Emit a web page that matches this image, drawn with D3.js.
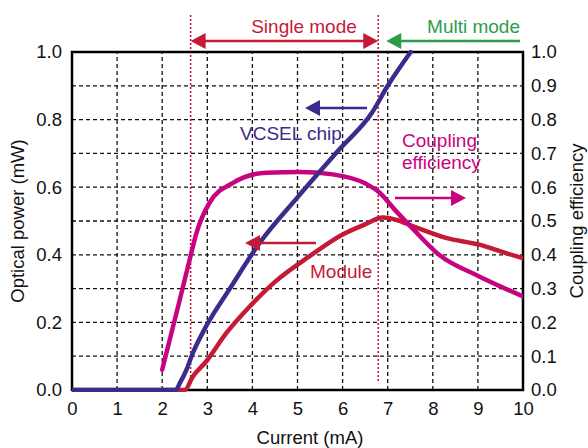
<!DOCTYPE html>
<html>
<head>
<meta charset="utf-8">
<script src="https://cdn.jsdelivr.net/npm/d3@7"></script>
<style>
  html, body { margin: 0; padding: 0; background: #fff; }
  svg { display: block; font-family: "Liberation Sans", Arial, sans-serif; }
</style>
</head>
<body>
<svg id="chart" width="588" height="448"></svg>
<script>
// VCSEL chip output power (mW) vs drive current (mA)
const chipCurrent = [0, 2.3, 2.39, 2.54, 2.65, 2.98, 3.5, 4.16, 5.0, 5.93, 6.65, 7.0, 7.51];
const chipPower   = [0, 0, 0.02, 0.06, 0.1, 0.19, 0.3, 0.435, 0.57, 0.712, 0.82, 0.9, 1.0];

// Module output power (mW)
const moduleCurrent = [0, 2.5, 2.68, 2.98, 3.42, 3.94, 4.5, 5.27, 6.0, 6.5, 6.89, 7.2, 7.55, 8.29, 9.03, 9.62, 10];
const modulePower   = [0, 0, 0.04, 0.085, 0.168, 0.247, 0.32, 0.396, 0.46, 0.49, 0.51, 0.503, 0.485, 0.45, 0.43, 0.405, 0.39];

// Coupling efficiency (right axis)
const couplingCurrent = [2.0, 2.39, 2.61, 2.76, 3.05, 3.57, 4.31, 5.04, 5.78, 6.52, 6.81, 7.18, 7.55, 8.14, 9.03, 10];
const couplingEff     = [0.06, 0.267, 0.386, 0.465, 0.554, 0.613, 0.643, 0.645, 0.638, 0.61, 0.585, 0.53, 0.478, 0.4, 0.336, 0.277];

// Tick values
const xTicks = [0, 1, 2, 3, 4, 5, 6, 7, 8, 9, 10];
const leftTicks = [0, 0.2, 0.4, 0.6, 0.8, 1.0];
const rightTicks = [0, 0.1, 0.2, 0.3, 0.4, 0.5, 0.6, 0.7, 0.8, 0.9, 1.0];

// Mode boundaries (mA)
const singleModeStart = 2.63;
const singleModeEnd = 6.79;

const C = {
  chip: "#3b2b8c",
  module: "#c41a35",
  coupling: "#c8037f",
  multi: "#2e9b4a"
};

const svg = d3.select("#chart");
const margin = { left: 72, right: 65, top: 52, bottom: 58 };
const W = 588, H = 448;
const x = d3.scaleLinear().domain([0, 10]).range([margin.left, W - margin.right]);
const yL = d3.scaleLinear().domain([0, 1]).range([H - margin.bottom, margin.top]);
const yR = d3.scaleLinear().domain([0, 1]).range([H - margin.bottom, margin.top]);

const defs = svg.append("defs");
defs.append("clipPath").attr("id", "plot")
  .append("rect")
  .attr("x", x(0)).attr("y", yL(1) - 2)
  .attr("width", x(10) - x(0)).attr("height", yL(0) - yL(1) + 4);

// Grid
const grid = svg.append("g").attr("stroke", "#111").attr("stroke-width", 1.3)
  .attr("stroke-dasharray", "4,3");
xTicks.slice(1, -1).forEach(v => {
  grid.append("line").attr("x1", x(v)).attr("x2", x(v)).attr("y1", yL(0)).attr("y2", yL(1));
});
rightTicks.slice(1, -1).forEach(v => {
  grid.append("line").attr("x1", x(0)).attr("x2", x(10)).attr("y1", yL(v)).attr("y2", yL(v));
});

// Mode boundary markers
[singleModeStart, singleModeEnd].forEach(v => {
  svg.append("line").attr("x1", x(v)).attr("x2", x(v)).attr("y1", 15).attr("y2", 382)
    .attr("stroke", C.module).attr("stroke-width", 1.6).attr("stroke-dasharray", "2,2");
});

// Axes
const fmt = d3.format(".1f");
const axB = svg.append("g").attr("transform", `translate(0,${yL(0)})`)
  .call(d3.axisBottom(x).tickValues(xTicks).tickFormat(d3.format("d")).tickSize(0).tickPadding(12));
const axL = svg.append("g").attr("transform", `translate(${x(0)},0)`)
  .call(d3.axisLeft(yL).tickValues(leftTicks).tickFormat(fmt).tickSize(0).tickPadding(10));
const axR = svg.append("g").attr("transform", `translate(${x(10)},0)`)
  .call(d3.axisRight(yR).tickValues(rightTicks).tickFormat(fmt).tickSize(0).tickPadding(8));
[axB, axL, axR].forEach(g => {
  g.select(".domain").remove();
  g.selectAll("text").attr("font-size", 18.5).attr("fill", "#111")
    .attr("font-family", "Liberation Sans, Arial, sans-serif");
});

// Frame
svg.append("rect").attr("x", x(0)).attr("y", yL(1))
  .attr("width", x(10) - x(0)).attr("height", yL(0) - yL(1))
  .attr("fill", "none").attr("stroke", "#000").attr("stroke-width", 2.5);

// Curves
const plot = svg.append("g").attr("clip-path", "url(#plot)");
function drawCurve(xs, ys, yScale, color) {
  const pts = xs.map((v, i) => [v, ys[i]]);
  const line = d3.line().x(d => x(d[0])).y(d => yScale(d[1])).curve(d3.curveMonotoneX);
  plot.append("path").attr("d", line(pts)).attr("fill", "none")
    .attr("stroke", color).attr("stroke-width", 4.5)
    .attr("stroke-linecap", "round").attr("stroke-linejoin", "round");
}
drawCurve(moduleCurrent, modulePower, yL, C.module);
drawCurve(couplingCurrent, couplingEff, yR, C.coupling);
drawCurve(chipCurrent, chipPower, yL, C.chip);

// Arrow helper
function arrow(x1, x2, y, color, both) {
  const g = svg.append("g");
  const dir = Math.sign(x2 - x1);
  const head = 15, half = 8;
  g.append("line").attr("x1", both ? x1 + dir * head * 0.6 : x1).attr("x2", x2 - dir * head * 0.6)
    .attr("y1", y).attr("y2", y).attr("stroke", color).attr("stroke-width", 2.5);
  const tri = (tx, d) => `M${tx},${y} L${tx - d * head},${y - half} L${tx - d * head},${y + half} Z`;
  g.append("path").attr("d", tri(x2, dir)).attr("fill", color);
  if (both) g.append("path").attr("d", tri(x1, -dir)).attr("fill", color);
}

// Mode annotations
arrow(x(singleModeStart), x(singleModeEnd), 41, C.module, true);
arrow(520, x(singleModeEnd) + 8, 41, C.multi, false);

function label(text, tx, ty, color, anchor) {
  svg.append("text").attr("x", tx).attr("y", ty).attr("fill", color)
    .attr("font-size", 19).attr("text-anchor", anchor || "start").text(text);
}
label("Single mode", 304, 33, C.module, "middle");
label("Multi mode", 520, 33, C.multi, "end");

// Curve annotations
label("VCSEL chip", 240, 140, C.chip);
arrow(367, 305, 108, C.chip, false);
label("Coupling", 402, 147, C.coupling);
label("efficiency", 402, 169, C.coupling);
arrow(395, 466, 198, C.coupling, false);
label("Module", 310, 278, C.module);
arrow(316, 245, 243, C.module, false);

// Axis titles
svg.append("text").attr("transform", `translate(24,${(yL(0) + yL(1)) / 2}) rotate(-90)`)
  .attr("text-anchor", "middle").attr("font-size", 18.5).attr("fill", "#111")
  .text("Optical power (mW)");
svg.append("text").attr("transform", `translate(583,${(yL(0) + yL(1)) / 2}) rotate(-90)`)
  .attr("text-anchor", "middle").attr("font-size", 18.5).attr("fill", "#111")
  .text("Coupling efficiency");
svg.append("text").attr("x", 310).attr("y", 444)
  .attr("text-anchor", "middle").attr("font-size", 18.5).attr("fill", "#111")
  .text("Current (mA)");
</script>
</body>
</html>
